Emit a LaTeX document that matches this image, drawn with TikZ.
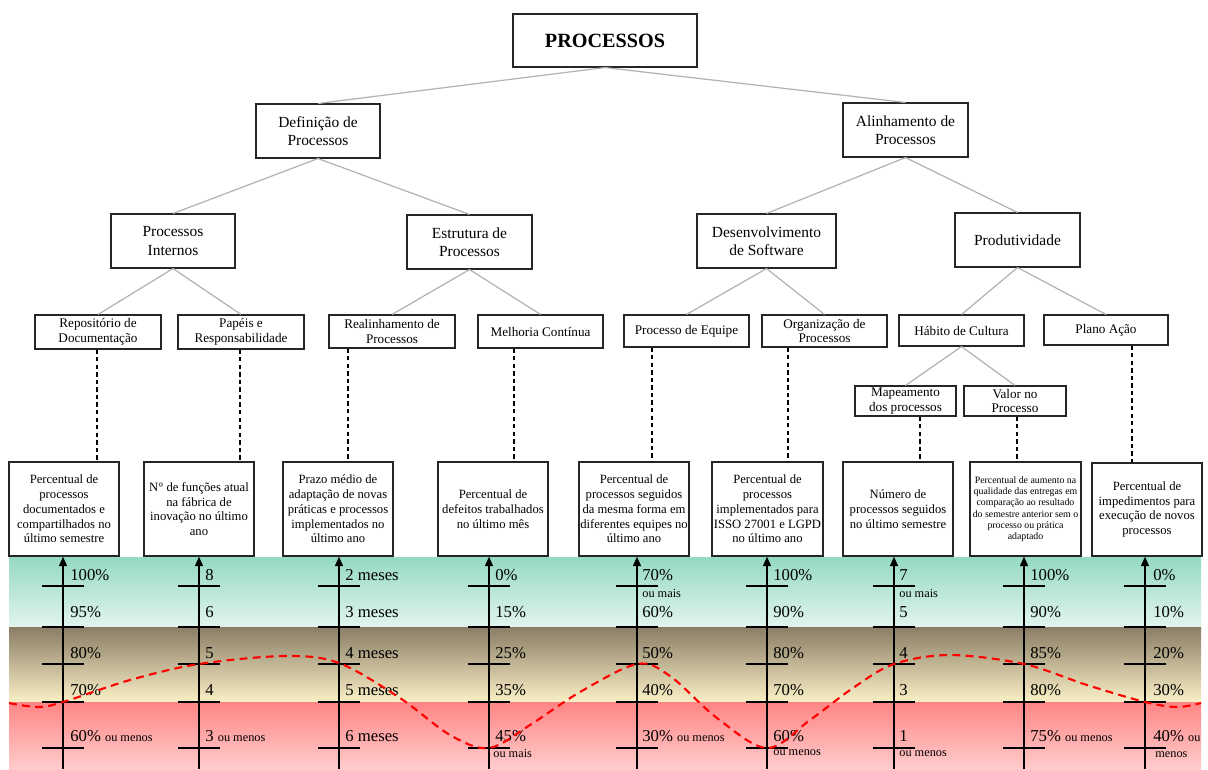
\documentclass[tikz,border=0pt]{standalone}
\usepackage{fontspec}
\setmainfont{Liberation Serif}
\usetikzlibrary{arrows.meta}

% small trailing words on the scale labels
\newcommand\oum[1]{{\fontsize{7}{8}\selectfont #1}}

\begin{document}
\begin{tikzpicture}[x=0.02cm, y=-0.02cm,
  box/.style={draw=black!85, line width=0.6pt, fill=white, align=center, inner sep=1pt},
  topbox/.style={box, font=\fontsize{11.5}{13}\selectfont\bfseries},
  midbox/.style={box, font=\fontsize{8.8}{10.5}\selectfont, minimum height=1.08cm},
  leafbox/.style={box, font=\fontsize{7.5}{8.4}\selectfont},
  kpibox/.style={box, inner sep=0.5pt, font=\fontsize{7.2}{8.4}\selectfont, minimum height=1.88cm, minimum width=2.2cm},
  tree/.style={draw=black!30, line width=0.7pt},
  link/.style={draw=black, line width=0.6pt, dash pattern=on 2.5pt off 1.8pt},
  axis/.style={line width=1.1pt, -{Triangle[length=5.5pt,width=4.5pt]}},
  tickmark/.style={line width=1.1pt},
  val/.style={anchor=west, font=\fontsize{9.5}{10}\selectfont, inner sep=0pt},
  sub/.style={anchor=west, font=\fontsize{7}{8}\selectfont, inner sep=0pt},
  wave/.style={draw=red, line width=1.2pt, dash pattern=on 4.5pt off 3pt}
]
\useasboundingbox (0,0) rectangle (1208,769);

% colour bands of the rating scale
\shade[top color={rgb,255:red,149;green,217;blue,195}, bottom color={rgb,255:red,226;green,244;blue,239}]
  (9,557) rectangle (1201,627);
\shade[top color={rgb,255:red,138;green,125;blue,101}, bottom color={rgb,255:red,250;green,240;blue,198}]
  (9,627) rectangle (1201,702);
\shade[top color={rgb,255:red,255;green,133;blue,133}, bottom color={rgb,255:red,255;green,204;blue,204}]
  (9,702) rectangle (1201,769);

% hierarchy
\node[topbox, minimum width=3.68cm, minimum height=1.06cm] (top) at (605,40.5) {PROCESSOS};

\node[midbox, minimum width=2.48cm] (def) at (318,131) {Definição de\\Processos};
\node[midbox, minimum width=2.50cm] (ali) at (905.5,130) {Alinhamento de\\Processos};

\node[midbox, minimum width=2.48cm] (pint) at (173,241) {Processos\\Internos};
\node[midbox, minimum width=2.50cm] (estr) at (469.5,242) {Estrutura de\\Processos};
\node[midbox, minimum width=2.78cm] (dsw) at (766.5,241) {Desenvolvimento\\de Software};
\node[midbox, minimum width=2.50cm] (prod) at (1017.5,240) {Produtividade};

\node[leafbox, minimum width=2.52cm, minimum height=0.68cm] (rep) at (98,332) {Repositório de\\Documentação};
\node[leafbox, minimum width=2.52cm, minimum height=0.68cm] (pap) at (241,332) {Papéis e\\Responsabilidade};
\node[leafbox, minimum width=2.52cm, minimum height=0.66cm] (real) at (392,331.5) {Realinhamento de\\Processos};
\node[leafbox, minimum width=2.50cm, minimum height=0.66cm] (mel) at (540.5,331.5) {Melhoria Contínua};
\node[leafbox, minimum width=2.50cm, minimum height=0.64cm] (peq) at (686.5,331) {Processo de Equipe};
\node[leafbox, minimum width=2.50cm, minimum height=0.64cm] (org) at (824.5,331) {Organização de\\Processos};
\node[leafbox, minimum width=2.50cm, minimum height=0.62cm] (hab) at (961.5,330.5) {Hábito de Cultura};
\node[leafbox, minimum width=2.48cm, minimum height=0.60cm] (plano) at (1106,330) {Plano Ação};

\node[leafbox, minimum width=2.02cm, minimum height=0.60cm] (map) at (905.5,401) {Mapeamento\\dos processos};
\node[leafbox, minimum width=2.04cm, minimum height=0.60cm] (valor) at (1015,401) {Valor no\\Processo};

\draw[tree] (top.south) -- (def.north);
\draw[tree] (top.south) -- (ali.north);
\draw[tree] (def.south) -- (pint.north);
\draw[tree] (def.south) -- (estr.north);
\draw[tree] (ali.south) -- (dsw.north);
\draw[tree] (ali.south) -- (prod.north);
\draw[tree] (pint.south) -- (rep.north);
\draw[tree] (pint.south) -- (pap.north);
\draw[tree] (estr.south) -- (real.north);
\draw[tree] (estr.south) -- (mel.north);
\draw[tree] (dsw.south) -- (peq.north);
\draw[tree] (dsw.south) -- (org.north);
\draw[tree] (prod.south) -- (hab.north);
\draw[tree] (prod.south) -- (plano.north);
\draw[tree] (hab.south) -- (map.north);
\draw[tree] (hab.south) -- (valor.north);

% indicator boxes
\node[kpibox] (b1) at (64,509) {Percentual de\\processos\\documentados e\\compartilhados no\\último semestre};
\node[kpibox] (b2) at (199,509) {N° de funções atual\\na fábrica de\\inovação no último\\ano};
\node[kpibox] (b3) at (338,509) {Prazo médio de\\adaptação de novas\\práticas e processos\\implementados no\\último ano};
\node[kpibox] (b4) at (493,509) {Percentual de\\defeitos trabalhados\\no último mês};
\node[kpibox] (b5) at (634,509) {Percentual de\\processos seguidos\\da mesma forma em\\diferentes equipes no\\último ano};
\node[kpibox, minimum width=2.22cm] (b6) at (767.5,509) {Percentual de\\processos\\implementados para\\ISSO 27001 e LGPD\\no último ano};
\node[kpibox] (b7) at (898,509) {Número de\\processos seguidos\\no último semestre};
\node[kpibox, minimum width=2.22cm, font=\fontsize{5.6}{6.4}\selectfont] (b8) at (1025.5,509)
  {Percentual de aumento na\\qualidade das entregas em\\comparação ao resultado\\do semestre anterior sem o\\processo ou prática\\adaptado};
\node[kpibox, minimum height=1.86cm] (b9) at (1147,509.5) {Percentual de\\impedimentos para\\execução de novos\\processos};

% dashed links from the criteria to their indicators
\coordinate (d1) at (97,0);
\coordinate (d2) at (240,0);
\coordinate (d3) at (348,0);
\coordinate (d4) at (514,0);
\coordinate (d5) at (652,0);
\coordinate (d6) at (788,0);
\coordinate (d7) at (920,0);
\coordinate (d8) at (1017,0);
\coordinate (d9) at (1132,0);
\draw[link] (rep.south -| d1) -- (b1.north -| d1);
\draw[link] (pap.south -| d2) -- (b2.north -| d2);
\draw[link] (real.south -| d3) -- (b3.north -| d3);
\draw[link] (mel.south -| d4) -- (b4.north -| d4);
\draw[link] (peq.south -| d5) -- (b5.north -| d5);
\draw[link] (org.south -| d6) -- (b6.north -| d6);
\draw[link] (map.south -| d7) -- (b7.north -| d7);
\draw[link] (valor.south -| d8) -- (b8.north -| d8);
\draw[link] (plano.south -| d9) -- (b9.north -| d9);

% rating scales
\foreach \i/\x/\dx/\la/\lb/\lc/\ld/\le in {
  1/63/7/100\%/95\%/80\%/70\%/60\% \oum{ou menos},
  2/199/6/8/6/5/4/3 \oum{ou menos},
  3/339/6/2 meses/3 meses/4 meses/5 meses/6 meses,
  4/489/6/0\%/15\%/25\%/35\%/45\%,
  5/637/5/70\%/60\%/50\%/40\%/30\% \oum{ou menos},
  6/767/6/100\%/90\%/80\%/70\%/60\%,
  7/894/5/7/5/4/3/1,
  8/1024/6/100\%/90\%/85\%/80\%/75\% \oum{ou menos},
  9/1145/8/0\%/10\%/20\%/30\%/40\% \oum{ou}}
{
  \coordinate (a\i) at (\x,769);
  \foreach \ty in {586,627,664,702,748}
    \draw[tickmark] (\x-21,\ty) -- (\x+21,\ty);
  \draw[axis] (a\i) -- (b\i.south -| a\i);
  \node[val] (v\i-1) at (\x+\dx,575) {\la};
  \node[val] (v\i-2) at (\x+\dx,612) {\lb};
  \node[val] (v\i-3) at (\x+\dx,653) {\lc};
  \node[val] (v\i-4) at (\x+\dx,690) {\ld};
  \node[val] (v\i-5) at (\x+\dx,736) {\le};
}
\node[sub] (s5) at (642,593) {ou mais};
\node[sub] (s7) at (899,593) {ou mais};
\node[sub] (s4) at (493,753) {ou mais};
\node[sub] (s6) at (773,753) {ou menos};
\node[sub] (s7b) at (899,754) {ou menos};
\node[sub] (s9) at (1155,755) {menos};

% performance profile
\draw[wave] plot[smooth, tension=0.55] coordinates {
  (9,703) (38,707) (63,702) (130,680) (199,664) (285,656) (339,663)
  (400,698) (450,735) (489,748) (530,725) (580,692) (637,664) (670,676)
  (717,718) (767,748) (810,720) (853,688) (894,664) (950,655) (1024,664)
  (1087,685) (1145,702) (1177,707) (1201,703)};
\end{tikzpicture}
\end{document}
